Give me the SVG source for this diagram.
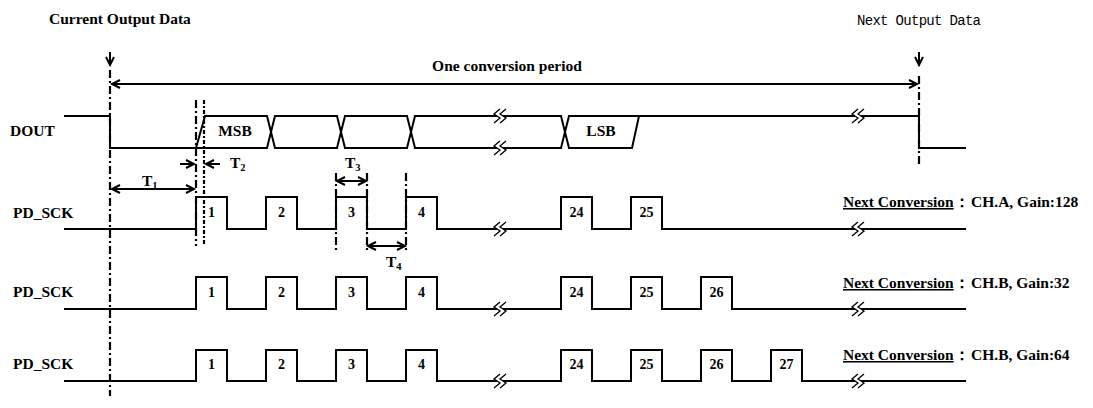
<svg xmlns="http://www.w3.org/2000/svg" width="1093" height="408" viewBox="0 0 1093 408">
<style>
.sig{fill:none;stroke:#000;stroke-width:2;stroke-linejoin:miter}
.dd{fill:none;stroke:#000;stroke-width:2.2;stroke-dasharray:8 3 2 3}
.dt{fill:none;stroke:#000;stroke-width:2.2;stroke-dasharray:4 2 2 2}
.arr{fill:none;stroke:#000;stroke-width:2}
.t{font-family:"Liberation Serif","Times New Roman",serif;font-weight:bold;font-size:15.5px;fill:#000}
.n{font-family:"Liberation Serif","Times New Roman",serif;font-weight:bold;font-size:14px;fill:#000;text-anchor:middle}
.m{font-family:"Liberation Mono","Courier New",monospace;font-size:14px;fill:#000}
.sub{font-size:10.5px}
</style>
<defs>
<marker id="ah" markerUnits="userSpaceOnUse" markerWidth="12" markerHeight="12" refX="9" refY="5" orient="auto-start-reverse" viewBox="0 0 12 10">
<path d="M1,1 L9,5 L1,9" fill="none" stroke="#000" stroke-width="2"/>
</marker>
<g id="brk">
<rect x="-3" y="-3" width="6" height="6" fill="#fff"/>
<path d="M0,-7 L-6,-2 L0,2 L-6,7 M6,-7 L0,-2 L6,2 L0,7" fill="none" stroke="#000" stroke-width="1.3"/>
</g>
</defs>
<rect width="1093" height="408" fill="#fff"/>

<g id="titles">
<text class="t" x="49" y="24">Current Output Data</text>
<text class="m" x="857" y="25" textLength="124">Next Output Data</text>
<text class="t" x="507" y="71" text-anchor="middle">One conversion period</text>
</g>

<g id="guides">
<line class="dd" x1="110" y1="70" x2="110" y2="396"/>
<line class="dd" x1="919" y1="76" x2="919" y2="166"/>
<line class="dd" x1="196" y1="100" x2="196" y2="246"/>
<line class="dt" x1="204" y1="100" x2="204" y2="246"/>
<line class="dd" x1="336" y1="173" x2="336" y2="253"/>
<line class="dd" x1="367" y1="173" x2="367" y2="253"/>
<line class="dd" x1="406" y1="173" x2="406" y2="253"/>
</g>

<g id="dout">
<text class="t" x="10" y="136">DOUT</text>
<path class="sig" d="M64,116 H110 V148 H267 L275,116 H337 L345,148 H407 L415,116 H561 L569,148 H632 L639,116 H919 V148 H966"/>
<path class="sig" d="M196,148 L205,116 H267 L275,148 H337 L345,116 H407 L415,148 H561 L569,116 H639"/>
<text class="t" x="235" y="136" text-anchor="middle">MSB</text>
<text class="t" x="601" y="136" text-anchor="middle">LSB</text>
<use href="#brk" x="500" y="116"/>
<use href="#brk" x="500" y="148"/>
<use href="#brk" x="858" y="116"/>
</g>

<g id="sck1">
<text class="t" x="13" y="218">PD_SCK</text>
<path class="sig" d="M64,229 H196 V197 H227 V229 H266 V197 H297 V229 H336 V197 H367 V229 H406 V197 H437 V229 H561 V197 H592 V229 H631 V197 H662 V229 H966"/>
<use href="#brk" x="500" y="229"/>
<use href="#brk" x="858" y="229"/>
<text class="n" x="211.5" y="217">1</text>
<text class="n" x="281.5" y="217">2</text>
<text class="n" x="351.5" y="217">3</text>
<text class="n" x="421.5" y="217">4</text>
<text class="n" x="576.5" y="217">24</text>
<text class="n" x="646.5" y="217">25</text>
<text class="t" x="843" y="207"><tspan text-decoration="underline">Next Conversion</tspan>：</text>
<text class="t" x="971" y="207">CH.A, Gain:128</text>
</g>

<g id="sck2">
<text class="t" x="13" y="297">PD_SCK</text>
<path class="sig" d="M64,309 H196 V277 H227 V309 H266 V277 H297 V309 H336 V277 H367 V309 H406 V277 H437 V309 H561 V277 H592 V309 H631 V277 H662 V309 H701 V277 H732 V309 H966"/>
<use href="#brk" x="500" y="309"/>
<use href="#brk" x="858" y="309"/>
<text class="n" x="211.5" y="297">1</text>
<text class="n" x="281.5" y="297">2</text>
<text class="n" x="351.5" y="297">3</text>
<text class="n" x="421.5" y="297">4</text>
<text class="n" x="576.5" y="297">24</text>
<text class="n" x="646.5" y="297">25</text>
<text class="n" x="716.5" y="297">26</text>
<text class="t" x="843" y="288"><tspan text-decoration="underline">Next Conversion</tspan>：</text>
<text class="t" x="971" y="288">CH.B, Gain:32</text>
</g>

<g id="sck3">
<text class="t" x="13" y="369">PD_SCK</text>
<path class="sig" d="M64,381 H196 V350 H227 V381 H266 V350 H297 V381 H336 V350 H367 V381 H406 V350 H437 V381 H561 V350 H592 V381 H631 V350 H662 V381 H701 V350 H732 V381 H771 V350 H802 V381 H966"/>
<use href="#brk" x="500" y="381"/>
<use href="#brk" x="858" y="381"/>
<text class="n" x="211.5" y="369">1</text>
<text class="n" x="281.5" y="369">2</text>
<text class="n" x="351.5" y="369">3</text>
<text class="n" x="421.5" y="369">4</text>
<text class="n" x="576.5" y="369">24</text>
<text class="n" x="646.5" y="369">25</text>
<text class="n" x="716.5" y="369">26</text>
<text class="n" x="786.5" y="369">27</text>
<text class="t" x="843" y="360"><tspan text-decoration="underline">Next Conversion</tspan>：</text>
<text class="t" x="971" y="360">CH.B, Gain:64</text>
</g>

<g id="connectors">
<line class="arr" x1="110" y1="52" x2="110" y2="65" marker-end="url(#ah)"/>
<line class="arr" x1="919" y1="52" x2="919" y2="65" marker-end="url(#ah)"/>
<line class="arr" x1="112" y1="84" x2="917" y2="84" marker-start="url(#ah)" marker-end="url(#ah)"/>
<line class="arr" x1="112" y1="189" x2="194" y2="189" marker-start="url(#ah)" marker-end="url(#ah)"/>
<line class="arr" x1="180" y1="164" x2="194" y2="164" marker-end="url(#ah)"/>
<line class="arr" x1="220" y1="164" x2="206" y2="164" marker-end="url(#ah)"/>
<line class="arr" x1="337" y1="181" x2="366" y2="181" marker-start="url(#ah)" marker-end="url(#ah)"/>
<line class="arr" x1="368" y1="246" x2="405" y2="246" marker-start="url(#ah)" marker-end="url(#ah)"/>
</g>

<g id="tlabels">
<text class="t" x="142" y="186">T<tspan class="sub" dy="3">1</tspan></text>
<text class="t" x="230" y="168">T<tspan class="sub" dy="3">2</tspan></text>
<text class="t" x="345" y="168">T<tspan class="sub" dy="3">3</tspan></text>
<text class="t" x="386" y="267">T<tspan class="sub" dy="3">4</tspan></text>
</g>
</svg>
